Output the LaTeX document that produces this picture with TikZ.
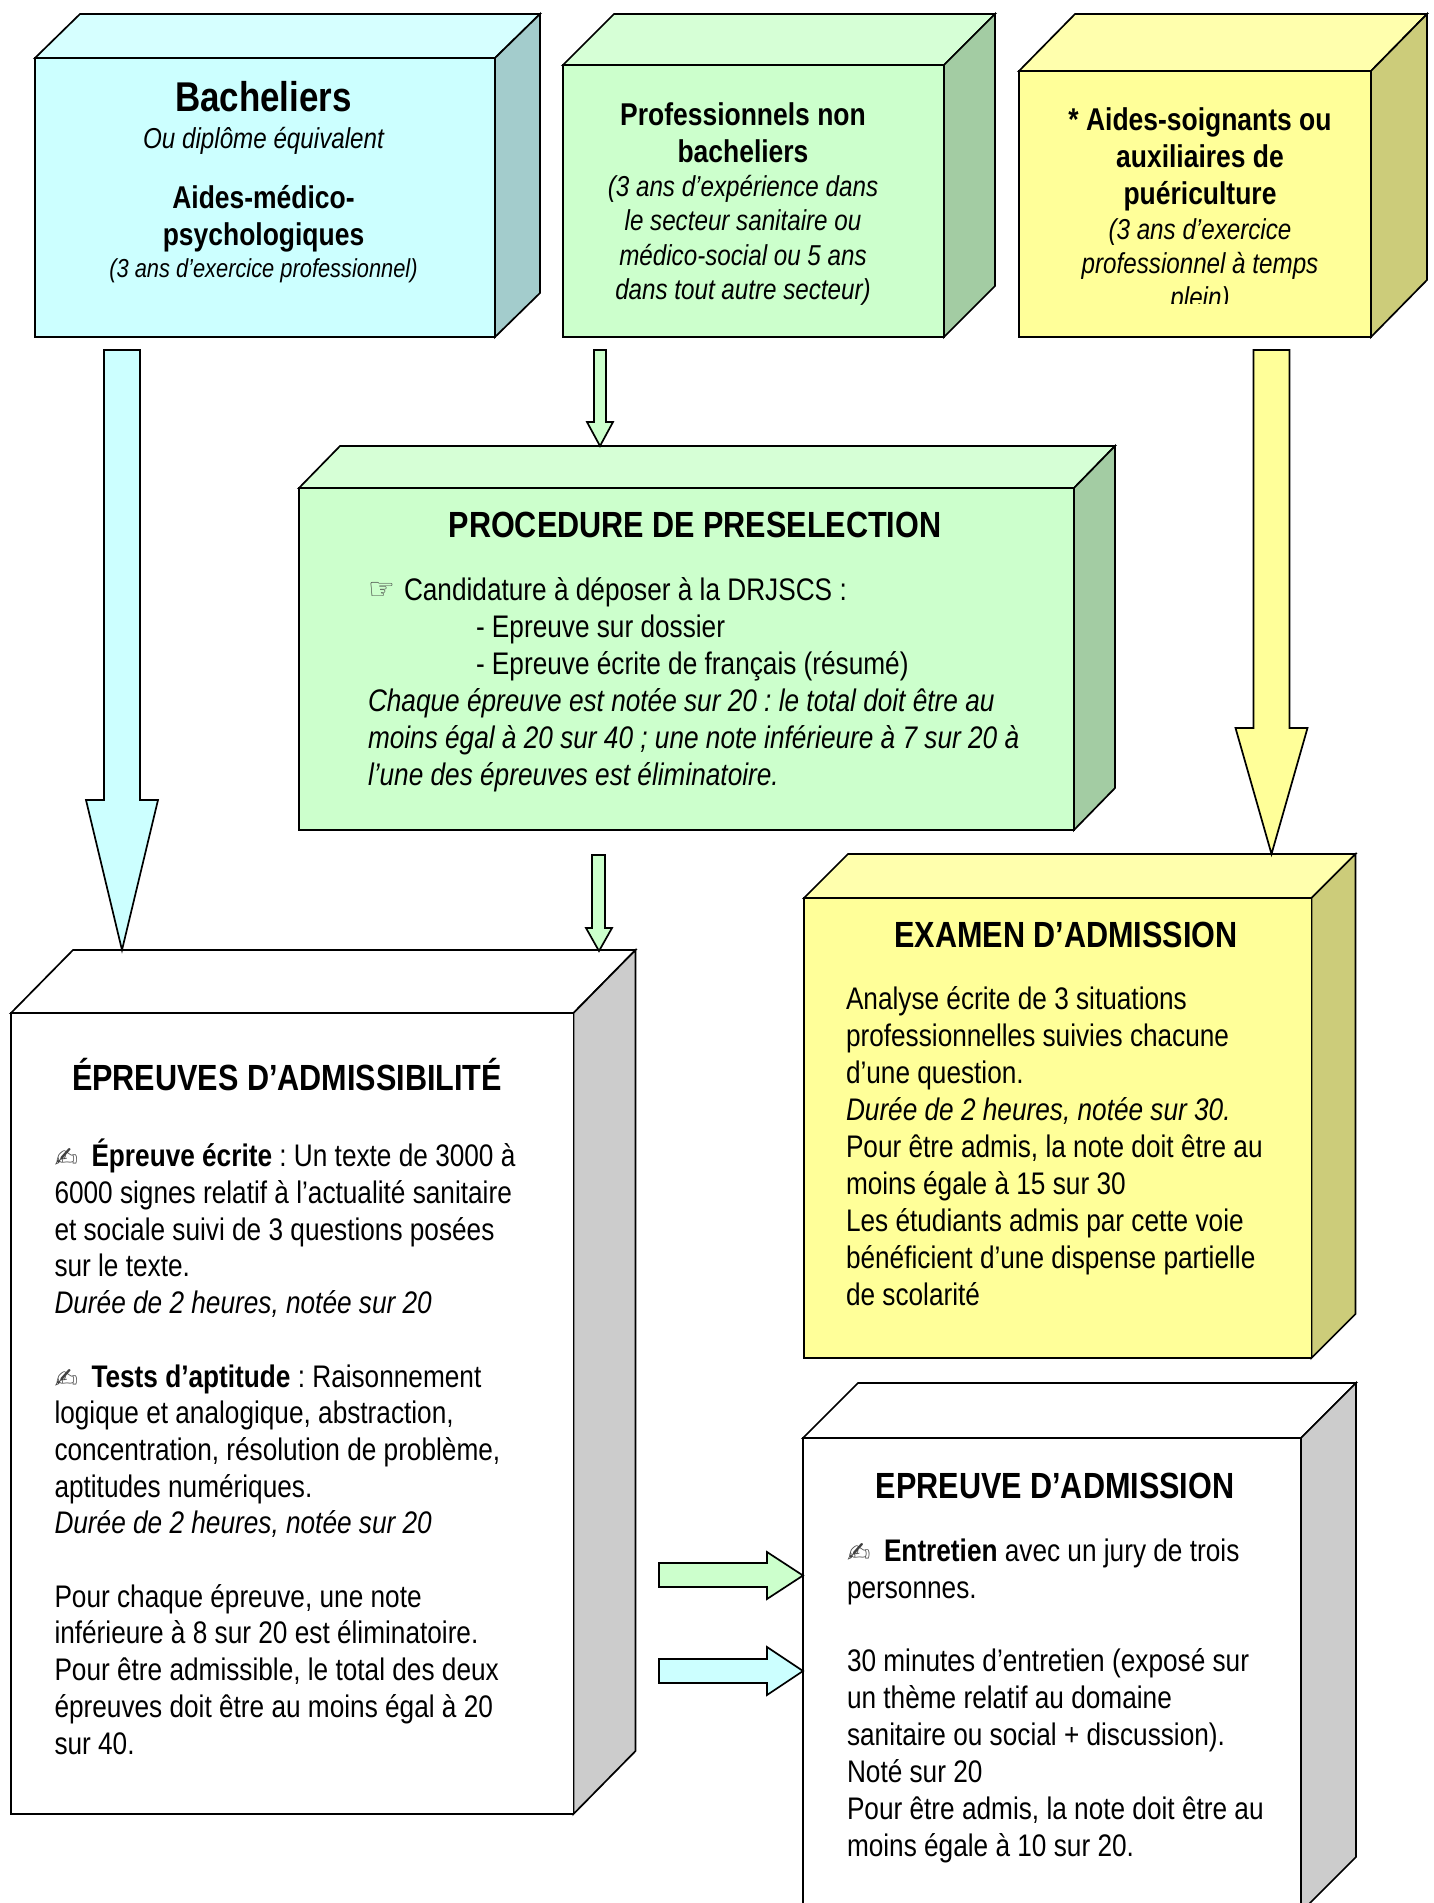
\documentclass[tikz,border=0pt]{standalone}
\usepackage{fontspec}
\setmainfont{Liberation Sans}[FakeStretch=0.84]
\newfontfamily\symfont{DejaVu Sans}
\definecolor{cyanF}{HTML}{CCFFFF}\definecolor{cyanT}{HTML}{D6FFFF}\definecolor{cyanS}{HTML}{A3CCCC}
\definecolor{greenF}{HTML}{CCFFCC}\definecolor{greenT}{HTML}{D6FFD6}\definecolor{greenS}{HTML}{A3CCA3}
\definecolor{yellF}{HTML}{FFFF99}\definecolor{yellT}{HTML}{FFFFAD}\definecolor{yellS}{HTML}{CCCC7A}
\definecolor{greyS}{HTML}{CCCCCC}
\tikzset{
  edge/.style={draw=black,line width=1.7pt,line join=miter},
  txt/.style={inner sep=0pt,outer sep=0pt},
  bodytxt/.style={txt,anchor=north west,align=left,font=\fontsize{31.2}{36.9}\selectfont\frenchspacing},
  boldc/.style={txt,anchor=north,align=center,font=\fontsize{31.5}{37.3}\selectfont\bfseries},
  italc/.style={txt,anchor=north,align=center,font=\fontsize{28.8}{34.1}\selectfont\itshape},
  head/.style={txt,anchor=base,font=\fontsize{36.4}{40}\selectfont\bfseries},
}
% name, xl, ytop, xr, ybot, dx, dy, front, top, side
\newcommand{\cube}[9]{%
  \coordinate (#1-a) at (#2,#3);\coordinate (#1-b) at (#4,#3);
  \coordinate (#1-c) at (#4,#5);\coordinate (#1-d) at (#2,#5);
  \coordinate (#1-e) at ($(#1-a)+(#6,-#7)$);\coordinate (#1-f) at ($(#1-b)+(#6,-#7)$);
  \coordinate (#1-g) at ($(#1-c)+(#6,-#7)$);
  \cubefill{#1}{#8}{#9}}
\newcommand{\cubefill}[3]{\def\cubename{#1}\def\cubeF{#2}\def\cubeT{#3}\cubeside}
\newcommand{\cubeside}[1]{%
  \draw[edge,fill=\cubeT] (\cubename-a)--(\cubename-e)--(\cubename-f)--(\cubename-b)--cycle;
  \draw[edge,fill=#1] (\cubename-b)--(\cubename-f)--(\cubename-g)--(\cubename-c)--cycle;
  \draw[edge,fill=\cubeF] (\cubename-a)--(\cubename-b)--(\cubename-c)--(\cubename-d)--cycle;}
% down arrow: name, xleft, xright, ytop, yhead, HL, HR, ytip, fill
\newcommand{\downarr}[9]{%
  \coordinate (#1-tip) at ({(#6+#7)/2},#8);
  \draw[edge,fill=#9] (#2,#4)--(#3,#4)--(#3,#5)--(#7,#5)--(#1-tip)--(#6,#5)--(#2,#5)--cycle;}
% right arrow: name, xl, xh, ytop, ybot, headtop, headbot, xtip, fill
\newcommand{\rightarr}[9]{%
  \coordinate (#1-tip) at (#8,{(#6+#7)/2});
  \draw[edge,fill=#9] (#2,#4)--(#3,#4)--(#3,#6)--(#1-tip)--(#3,#7)--(#3,#5)--(#2,#5)--cycle;}
\newcommand{\penicon}{\makebox[37pt][l]{\raisebox{-1pt}{\symfont\fontsize{28}{28}\selectfont\color{black!75} ✍}}}
\newcommand{\handicon}{\makebox[36pt][l]{\raisebox{1pt}{\symfont\fontsize{30}{30}\selectfont\color{black!75} ☞}}}
\usetikzlibrary{calc}
\begin{document}
\begin{tikzpicture}[x=1pt,y=-1pt]
\useasboundingbox (0,0) rectangle (1433,1903);
\clip (0,0) rectangle (1433,1903);
\fill[white] (0,0) rectangle (1433,1903);

\cube{bac}{35}{58}{495}{337}{45}{44}{cyanF}{cyanT}{cyanS}
\cube{pro}{563}{65}{944}{337}{51}{51}{greenF}{greenT}{greenS}
\cube{aid}{1019}{71}{1371}{337}{56}{57}{yellF}{yellT}{yellS}
\cube{pre}{299}{488}{1074}{830}{41}{42}{greenF}{greenT}{greenS}
\cube{exa}{804}{898}{1311.5}{1358}{44}{44}{yellF}{yellT}{yellS}
\cube{adm}{11}{1013}{573.5}{1814}{62}{63}{white}{white}{greyS}
\cube{ent}{803}{1438}{1301}{1912}{55}{55}{white}{white}{greyS}

\downarr{a1}{104}{140}{350}{800}{86}{158}{950}{cyanF}
\downarr{a2}{594}{606}{350}{422}{587}{613}{446}{greenF}
\downarr{a3}{1253.5}{1289.5}{350}{728}{1235.5}{1307.5}{854}{yellF}
\downarr{a4}{592}{605}{855}{928}{586}{612}{951}{greenF}
\rightarr{a5}{659}{767}{1563}{1587}{1552}{1599}{803}{greenF}
\rightarr{a6}{659}{767}{1659}{1683}{1647}{1695}{803}{cyanF}

% Bacheliers
\node[txt,anchor=base,font=\fontsize{41.6}{44}\selectfont\bfseries] (t1) at (263.5,111) {Bacheliers};
\node[txt,anchor=base,font=\fontsize{28.8}{30}\selectfont\itshape] (t2) at (263.5,148) {Ou diplôme équivalent};
\node[boldc] (t3) at (263.5,182) {\strut Aides-médico-\\psychologiques};
\node[txt,anchor=base,font=\fontsize{26}{30}\selectfont\itshape] (t4) at (263.5,277.5) {(3 ans d’exercice professionnel)};
% Professionnels
\node[boldc] (t5) at (743,99.2) {\strut Professionnels non\\bacheliers};
\node[italc] (t6) at (743,173) {\strut (3 ans d’expérience dans\\le secteur sanitaire ou\\médico-social ou 5 ans\\dans tout autre secteur)};
% Aides
\node[boldc] (t7) at (1200,104) {\strut * Aides-soignants ou\\auxiliaires de\\puériculture};
\begin{scope}
\clip (1019,200) rectangle (1371,303);
\node[italc] (t8) at (1200,215.3) {\strut (3 ans d’exercice\\professionnel à temps\\plein)};
\end{scope}
% Preselection
\node[head] (t9) at (695,537) {PROCEDURE DE PRESELECTION};
\node[bodytxt] (t10) at (368,574.8) {\strut\handicon Candidature à déposer à la DRJSCS :\\
\hspace{108pt}- Epreuve sur dossier\\
\hspace{108pt}- Epreuve écrite de français (résumé)\\
\itshape Chaque épreuve est notée sur 20 : le total doit être au\\
\itshape moins égal à 20 sur 40 ; une note inférieure à 7 sur 20 à\\
\itshape l’une des épreuves est éliminatoire.};
% Examen
\node[head] (t11) at (1066,947) {EXAMEN D’ADMISSION};
\node[bodytxt,font=\fontsize{31.2}{37}\selectfont\frenchspacing] (t12) at (846,983.9) {\strut Analyse écrite de 3 situations\\
professionnelles suivies chacune\\
d’une question.\\
\itshape Durée de 2 heures, notée sur 30.\\
Pour être admis, la note doit être au\\
moins égale à 15 sur 30\\
Les étudiants admis par cette voie\\
bénéficient d’une dispense partielle\\
de scolarité};
% Admissibilite
\node[head] (t13) at (287,1090) {ÉPREUVES D’ADMISSIBILITÉ};
\node[bodytxt,font=\fontsize{31.2}{36.7}\selectfont\frenchspacing] (t14) at (54.5,1139.2) {\strut\penicon\textbf{Épreuve écrite} : Un texte de 3000 à\\
6000 signes relatif à l’actualité sanitaire\\
et sociale suivi de 3 questions posées\\
sur le texte.\\
\itshape Durée de 2 heures, notée sur 20\\
\strut\\
\strut\penicon\textbf{Tests d’aptitude} : Raisonnement\\
logique et analogique, abstraction,\\
concentration, résolution de problème,\\
aptitudes numériques.\\
\itshape Durée de 2 heures, notée sur 20\\
\strut\\
Pour chaque épreuve, une note\\
inférieure à 8 sur 20 est éliminatoire.\\
Pour être admissible, le total des deux\\
épreuves doit être au moins égal à 20\\
sur 40.};
% Admission
\node[head] (t15) at (1055,1498) {EPREUVE D’ADMISSION};
\node[bodytxt] (t16) at (847,1535.4) {\strut\penicon\textbf{Entretien} avec un jury de trois\\
personnes.\\
\strut\\
30 minutes d’entretien (exposé sur\\
un thème relatif au domaine\\
sanitaire ou social + discussion).\\
Noté sur 20\\
Pour être admis, la note doit être au\\
moins égale à 10 sur 20.};
\end{tikzpicture}
\end{document}
